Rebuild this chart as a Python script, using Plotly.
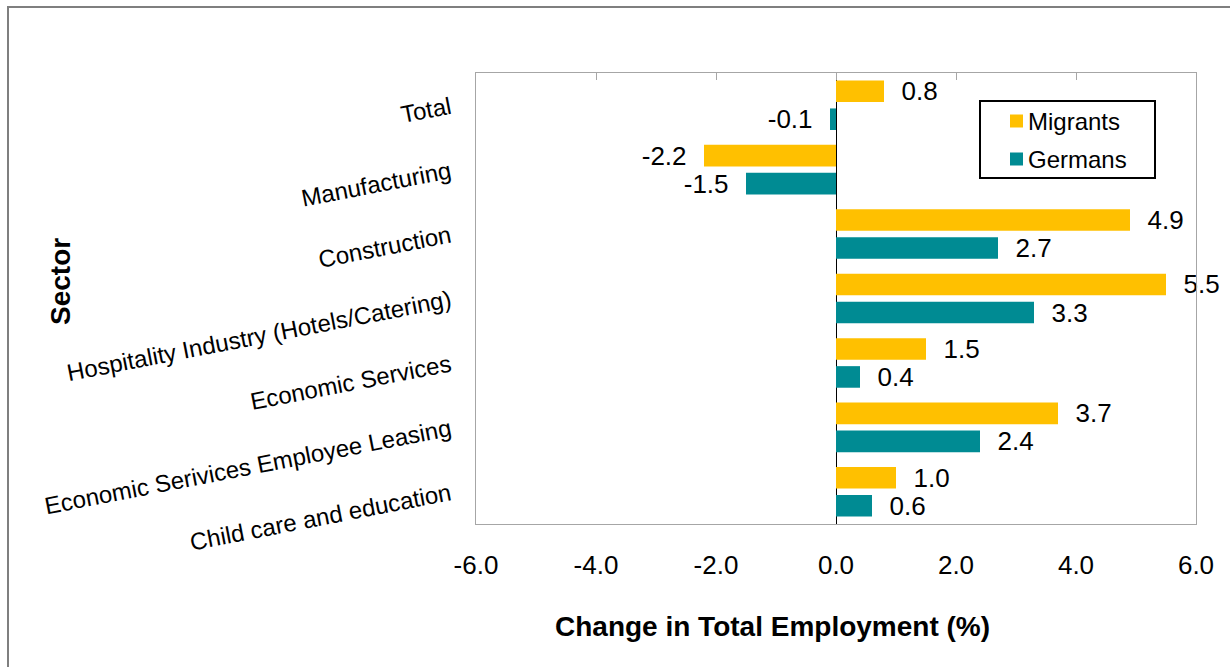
import plotly.graph_objects as go

# Sector categories, top to bottom
sectors = [
    "Total",
    "Manufacturing",
    "Construction",
    "Hospitality Industry (Hotels/Catering)",
    "Economic Services",
    "Economic Serivices Employee Leasing",
    "Child care and education",
]
# Change in total employment (%) by group
migrants = [0.8, -2.2, 4.9, 5.5, 1.5, 3.7, 1.0]
germans = [-0.1, -1.5, 2.7, 3.3, 0.4, 2.4, 0.6]
series_names = ["Migrants", "Germans"]
series_colors = ["#FFC000", "#008B93"]
x_ticks = [-6, -4, -2, 0, 2, 4, 6]
x_tick_text = [f"{v:.1f}" for v in x_ticks]

FONT = "Arial, Liberation Sans, sans-serif"
W, H = 1230, 667
L, R, T, B = 476, 1196, 73, 524  # plot area in pixels


def px(x):
    return (x - L) / (R - L)


def py(y):
    return (B - y) / (B - T)


NB = "\u00a0"


def bar_labels(vals):
    return [f"{NB * 2}{v:.1f}" if v >= 0 else f"{v:.1f}{NB * 2}" for v in vals]


fig = go.Figure()
for name, vals, color in zip(series_names, [migrants, germans], series_colors):
    fig.add_trace(go.Bar(
        y=sectors, x=vals, orientation="h", name=name,
        marker=dict(color=color, line=dict(width=0)),
        text=bar_labels(vals), textposition="outside",
        textfont=dict(size=26, color="black", family=FONT),
        constraintext="none", cliponaxis=False, showlegend=False,
        hovertemplate="%{y}: %{x:.1f}<extra>" + name + "</extra>",
    ))

# empty trace so the mirrored top axis (tick marks only) gets drawn
fig.add_trace(go.Scatter(x=[None], y=[None], xaxis="x2", yaxis="y",
                         mode="markers", showlegend=False, hoverinfo="skip"))

fig.update_layout(
    width=W, height=H,
    margin=dict(l=L, r=W - R, t=T, b=H - B, pad=0),
    plot_bgcolor="white", paper_bgcolor="white",
    barmode="group", bargap=0.13, bargroupgap=0.23,
    font=dict(family=FONT, color="black"),
    showlegend=False,
    xaxis=dict(
        range=[-6, 6], tickvals=x_ticks, ticktext=x_tick_text,
        tickfont=dict(size=26, color="black"),
        showgrid=False, zeroline=True, zerolinecolor="black", zerolinewidth=1,
        showline=True, linecolor="#A6A6A6", linewidth=1, mirror=True,
        ticks="", ticklabelstandoff=18,
    ),
    xaxis2=dict(
        range=[-6, 6], overlaying="x", side="top", anchor="y",
        tickvals=x_ticks, ticks="inside", ticklen=7, tickcolor="#A6A6A6",
        showticklabels=False, showgrid=False, zeroline=False, showline=False,
    ),
    yaxis=dict(
        categoryorder="array", categoryarray=sectors, autorange="reversed",
        tickangle=-11, tickfont=dict(size=24, color="black"),
        showline=True, linecolor="#A6A6A6", linewidth=1, mirror=True,
        ticks="", ticklabelstandoff=20, showgrid=False, zeroline=False,
    ),
)

shapes = [
    # outer chart frame
    dict(type="rect", xref="paper", yref="paper",
         x0=px(8), x1=px(1240), y0=py(690), y1=py(7),
         line=dict(color="#7F7F7F", width=2), fillcolor="rgba(0,0,0,0)"),
    # legend box
    dict(type="rect", xref="paper", yref="paper",
         x0=px(980), x1=px(1155), y0=py(178), y1=py(101),
         line=dict(color="black", width=2), fillcolor="white"),
]
annotations = [
    dict(text="<b>Change in Total Employment (%)</b>", xref="paper", yref="paper",
         x=px(772), y=py(626), xanchor="center", yanchor="middle",
         showarrow=False, font=dict(size=28, color="black", family=FONT)),
    dict(text="<b>Sector</b>", xref="paper", yref="paper",
         x=px(60), y=py(282), xanchor="center", yanchor="middle", textangle=-90,
         showarrow=False, font=dict(size=28, color="black", family=FONT)),
]

# legend entries
legend_rows = [121, 159]
for name, color, yc in zip(series_names, series_colors, legend_rows):
    shapes.append(dict(type="rect", xref="paper", yref="paper",
                       x0=px(1010), x1=px(1023), y0=py(yc + 6.5), y1=py(yc - 6.5),
                       line=dict(width=0), fillcolor=color))
    annotations.append(dict(text=name, xref="paper", yref="paper",
                            x=px(1026), y=py(yc), xanchor="left", yanchor="middle",
                            showarrow=False, font=dict(size=24, color="black", family=FONT)))

fig.update_layout(shapes=shapes, annotations=annotations)
fig.write_html("out.html")
